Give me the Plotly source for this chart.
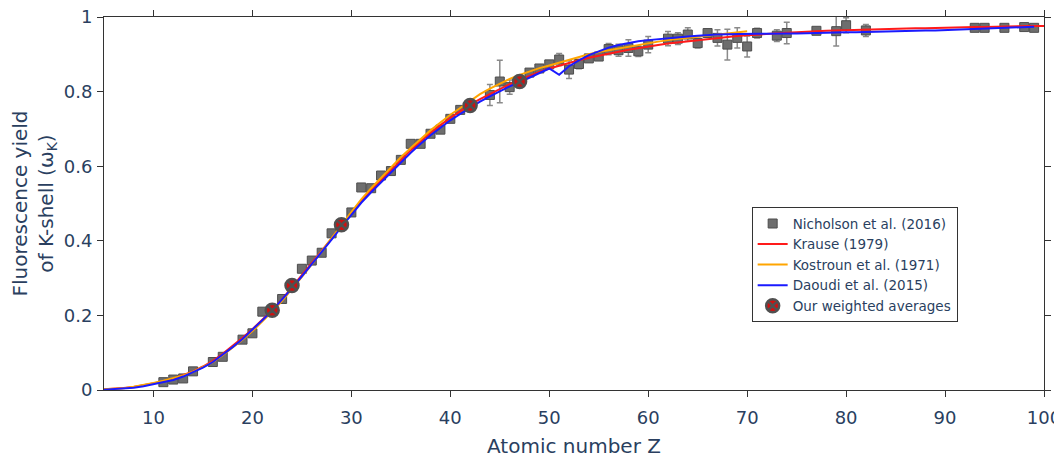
import plotly.graph_objects as go

# ---- Nicholson et al. (2016) experimental data ----
nich_z = [11, 12, 13, 14, 16, 17, 19, 20, 21, 23, 25, 26, 27, 28, 30, 31, 32, 33, 34, 35,
          36, 37, 38, 39, 40, 41, 44, 45, 46, 48, 49, 50, 51, 52, 53, 54, 55, 56, 57, 58,
          59, 60, 62, 63, 64, 65, 66, 67, 68, 69, 70, 71, 73, 74, 77, 79, 80, 82, 93, 94,
          96, 98, 99]
nich_w = [0.021, 0.028, 0.031, 0.050, 0.075, 0.089, 0.135, 0.152, 0.210, 0.244, 0.325, 0.347, 0.368, 0.420, 0.476, 0.543, 0.541, 0.575, 0.587, 0.617,
          0.660, 0.660, 0.687, 0.698, 0.727, 0.751, 0.791, 0.827, 0.812, 0.851, 0.862, 0.873, 0.886, 0.859, 0.874, 0.889, 0.894, 0.914, 0.911, 0.917,
          0.908, 0.926, 0.942, 0.942, 0.953, 0.930, 0.957, 0.944, 0.926, 0.944, 0.921, 0.957, 0.950, 0.957, 0.963, 0.962, 0.978, 0.964, 0.971, 0.971,
          0.971, 0.973, 0.971]
nich_err = [0, 0, 0, 0, 0, 0, 0, 0, 0, 0, 0, 0, 0, 0, 0, 0, 0, 0, 0, 0,
            0, 0, 0, 0, 0, 0, 0.028, 0.057, 0.019, 0.005, 0.005, 0.006, 0.016, 0.024, 0.013, 0.008, 0.008, 0.015, 0.016, 0.022,
            0.014, 0.022, 0.019, 0.016, 0.018, 0.013, 0.006, 0.022, 0.041, 0.027, 0.028, 0.013, 0.016, 0.029, 0.005, 0.040, 0.020, 0.016, 0.004, 0.004,
            0.004, 0.004, 0.004]

# ---- Krause (1979) ----
krause_z = list(range(5, 101))
krause_w = [0.0017, 0.0028, 0.0052, 0.0083, 0.013, 0.018, 0.023, 0.030, 0.039, 0.050,
            0.063, 0.078, 0.097, 0.118, 0.140, 0.163, 0.188, 0.214, 0.243, 0.275,
            0.308, 0.340, 0.373, 0.406, 0.440, 0.474, 0.507, 0.535, 0.562, 0.589,
            0.618, 0.643, 0.667, 0.690, 0.710, 0.730, 0.747, 0.765, 0.780, 0.794,
            0.808, 0.820, 0.831, 0.843, 0.853, 0.862, 0.870, 0.877, 0.884, 0.891,
            0.897, 0.902, 0.907, 0.912, 0.917, 0.921, 0.925, 0.929, 0.932, 0.935,
            0.938, 0.941, 0.944, 0.947, 0.949, 0.951, 0.953, 0.955, 0.957, 0.958,
            0.959, 0.961, 0.962, 0.963, 0.964, 0.965, 0.966, 0.967, 0.968, 0.968,
            0.969, 0.969, 0.970, 0.970, 0.971, 0.971, 0.972, 0.972, 0.973, 0.973,
            0.974, 0.974, 0.975, 0.975, 0.976, 0.976]

# ---- Kostroun et al. (1971) ----
kost_z = list(range(5, 71))
kost_w = [0.002, 0.003, 0.005, 0.009, 0.013, 0.019, 0.025, 0.031, 0.039, 0.049,
          0.061, 0.075, 0.093, 0.113, 0.135, 0.158, 0.183, 0.210, 0.239, 0.270,
          0.303, 0.337, 0.371, 0.406, 0.442, 0.477, 0.511, 0.541, 0.569, 0.596,
          0.624, 0.649, 0.673, 0.696, 0.717, 0.738, 0.756, 0.774, 0.793, 0.808,
          0.822, 0.834, 0.845, 0.855, 0.863, 0.870, 0.878, 0.886, 0.893, 0.900,
          0.906, 0.911, 0.916, 0.921, 0.926, 0.930, 0.934, 0.938, 0.941, 0.944,
          0.947, 0.950, 0.953, 0.956, 0.959, 0.962]

# ---- Daoudi et al. (2015) ----
daoudi_z = list(range(5, 100))
daoudi_w = [0.001, 0.002, 0.004, 0.006, 0.010, 0.015, 0.020, 0.027, 0.036, 0.047,
            0.060, 0.075, 0.094, 0.115, 0.137, 0.161, 0.187, 0.213, 0.242, 0.273,
            0.305, 0.337, 0.370, 0.403, 0.437, 0.470, 0.502, 0.530, 0.557, 0.583,
            0.611, 0.636, 0.660, 0.683, 0.703, 0.723, 0.740, 0.757, 0.773, 0.787,
            0.801, 0.814, 0.825, 0.838, 0.850, 0.862, 0.845, 0.868, 0.884, 0.898,
            0.908, 0.918, 0.925, 0.931, 0.935, 0.938, 0.941, 0.944, 0.946, 0.948,
            0.950, 0.952, 0.953, 0.954, 0.955, 0.955, 0.955, 0.955, 0.956, 0.956,
            0.956, 0.957, 0.957, 0.958, 0.958, 0.959, 0.959, 0.960, 0.961, 0.961,
            0.962, 0.962, 0.963, 0.964, 0.964, 0.965, 0.966, 0.967, 0.968, 0.969,
            0.970, 0.971, 0.972, 0.973, 0.974]

# ---- Our weighted averages ----
avg_z = [22, 24, 29, 42, 47]
avg_w = [0.214, 0.280, 0.443, 0.763, 0.827]

x_ticks = [10, 20, 30, 40, 50, 60, 70, 80, 90, 100]
y_ticks = [0, 0.2, 0.4, 0.6, 0.8, 1]

FONT = "DejaVu Sans, Verdana, sans-serif"

fig = go.Figure()
fig.add_trace(go.Scatter(
    x=nich_z, y=nich_w, mode="markers", name="Nicholson et al. (2016)",
    marker=dict(symbol="square", size=9, color="#6e6e6e", line=dict(color="#4d4d4d", width=1)),
    error_y=dict(type="data", array=nich_err, visible=True, color="#8a8a8a", thickness=1.5, width=3),
))
fig.add_trace(go.Scatter(x=krause_z, y=krause_w, mode="lines", name="Krause (1979)",
                         line=dict(color="#ff1a1a", width=2)))
fig.add_trace(go.Scatter(x=kost_z, y=kost_w, mode="lines", name="Kostroun et al. (1971)",
                         line=dict(color="orange", width=2)))
fig.add_trace(go.Scatter(x=daoudi_z, y=daoudi_w, mode="lines", name="Daoudi et al. (2015)",
                         line=dict(color="#1a1aff", width=2)))
fig.add_trace(go.Scatter(
    x=avg_z, y=avg_w, mode="markers", name="Our weighted averages",
    marker=dict(symbol="circle-x", size=13, color="#d01010", line=dict(color="#505050", width=2.5)),
))

axis_common = dict(showline=True, linecolor="#333", linewidth=1, mirror="ticks",
                   ticks="outside", ticklen=6, tickcolor="#333", showgrid=False,
                   zeroline=False, tickfont=dict(size=18), automargin=False,
                   ticklabeloverflow="allow")

fig.update_layout(
    width=1054, height=450,
    margin=dict(l=96, r=18, t=9, b=68),
    plot_bgcolor="white", paper_bgcolor="white",
    font=dict(family=FONT, color="#2a3f5f"),
    xaxis=dict(range=[5, 100], tickvals=x_ticks, ticklabelstandoff=5,
               title=dict(text="Atomic number Z", font=dict(size=20), standoff=12),
               **axis_common),
    yaxis=dict(range=[0, 1], tickvals=y_ticks, ticklabelstandoff=1,
               title=dict(text="Fluorescence yield<br>of K-shell (ω<sub>K</sub>)", font=dict(size=20)),
               **axis_common),
    legend=dict(x=0.689, y=0.49, xanchor="left", yanchor="top", bordercolor="#333", borderwidth=1,
                bgcolor="white", font=dict(size=13.5)),
    showlegend=True,
)

fig.write_html("out.html")
